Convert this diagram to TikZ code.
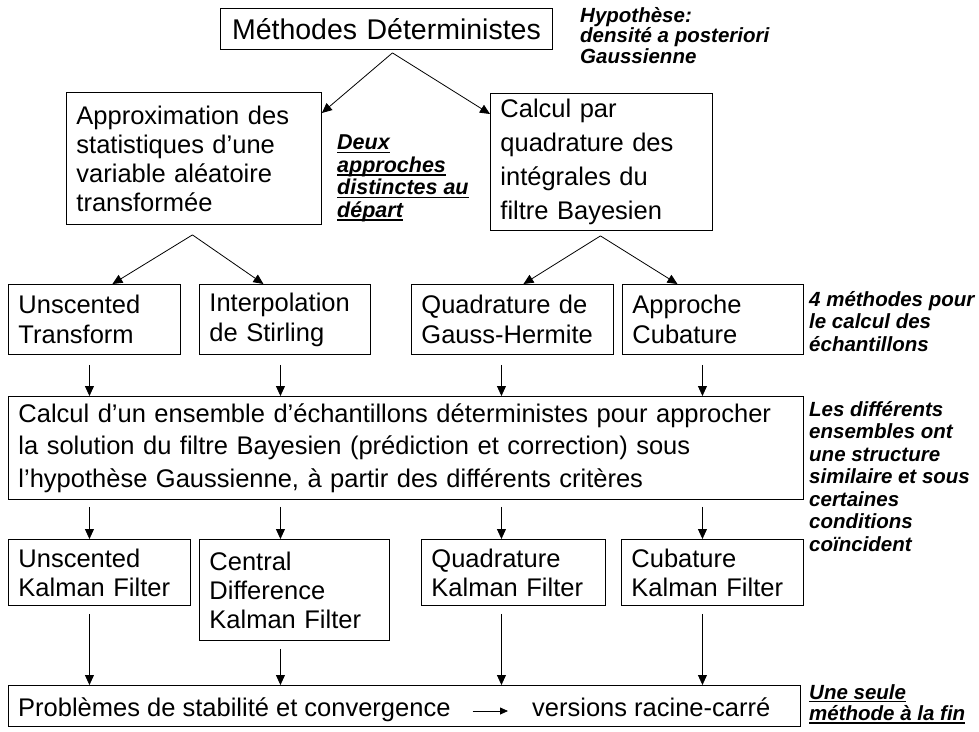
\documentclass[tikz,border=0pt]{standalone}
\usepackage{fontspec}
\setmainfont{Liberation Sans}
\usetikzlibrary{arrows.meta}
\newcommand\myul[1]{\setbox0\hbox{#1}\rlap{\rule[-3.2pt]{\wd0}{1.4pt}}\box0}
\begin{document}
\begin{tikzpicture}[x=1pt,y=-1pt,
  box/.style={draw, line width=0.9pt, anchor=north west, inner xsep=10pt, inner ysep=0pt,
    align=left, font=\fontsize{25.5}{29}\selectfont},
  arr/.style={-{Triangle[length=10pt,width=9pt]}, line width=0.8pt},
  arrs/.style={-{Triangle[length=8pt,width=7pt]}, line width=0.8pt},
  note/.style={anchor=north west, inner sep=0pt, align=left,
    font=\bfseries\itshape\fontsize{20.5}{22.5}\selectfont},
  plain/.style={anchor=base west, inner sep=0pt, font=\fontsize{25.5}{30}\selectfont}]
\useasboundingbox (0,0) rectangle (979,731);

% level 1
\node[box, align=center, font=\fontsize{28.5}{32}\selectfont, text width=312pt, minimum height=41pt] (top) at (220,8) {Méthodes Déterministes};
\node[note, font=\bfseries\itshape\fontsize{20.5}{20.5}\selectfont] (hyp) at (580,7) {Hypothèse:\\densité a posteriori\\Gaussienne};

% level 2
\node[box, text width=235pt, minimum height=132pt] (approx) at (66,92) {Approximation des\\statistiques d’une\\variable aléatoire\\transformée};
\node[box, font=\fontsize{25.5}{34}\selectfont, text width=202pt, minimum height=137pt] (calcul) at (490,93) {Calcul par\\quadrature des\\intégrales du\\filtre Bayesien};
\node[note, font=\bfseries\itshape\fontsize{21.5}{22.5}\selectfont] (deux) at (337,135) {\myul{Deux}\\\myul{approches}\\\myul{distinctes au}\\\myul{départ}};

% level 3
\node[box, font=\fontsize{25.5}{30}\selectfont, text width=152pt, minimum height=70pt] (ut) at (8,284) {Unscented\\Transform};
\node[box, font=\fontsize{25.5}{30}\selectfont, text width=151pt, minimum height=70pt] (stir) at (199,284) {Interpolation\\de Stirling};
\node[box, font=\fontsize{25.5}{30}\selectfont, text width=182pt, minimum height=70pt] (gh) at (411,284) {Quadrature de\\Gauss-Hermite};
\node[box, font=\fontsize{25.5}{30}\selectfont, text width=161pt, minimum height=70pt] (cub) at (622,284) {Approche\\Cubature};
\node[note] (quatre) at (809,291) {4 méthodes pour\\le calcul des\\échantillons};

% level 4
\node[box, font=\fontsize{25.5}{32.5}\selectfont, text width=775pt, minimum height=103pt] (big) at (8,396) {Calcul d’un ensemble d’échantillons déterministes pour approcher\\la solution du filtre Bayesien (prédiction et correction) sous\\l’hypothèse Gaussienne, à partir des différents critères};
\node[note] (les) at (809,401) {Les différents\\ensembles ont\\une structure\\similaire et sous\\certaines\\conditions\\coïncident};

% level 5
\node[box, text width=162pt, minimum height=66pt] (ukf) at (8,539) {Unscented\\Kalman Filter};
\node[box, text width=170pt, minimum height=101pt] (cdkf) at (199,539) {Central\\Difference\\Kalman Filter};
\node[box, text width=164pt, minimum height=66pt] (qkf) at (421,539) {Quadrature\\Kalman Filter};
\node[box, text width=162pt, minimum height=66pt] (ckf) at (621,539) {Cubature\\Kalman Filter};

% level 6
\node[draw, line width=0.9pt, anchor=north west, minimum width=792pt, minimum height=41pt, inner sep=0pt] (final) at (8,685) {};
\node[plain] (prob) at (18,716) {Problèmes de stabilité et convergence};
\node[plain] (vers) at (532,716) {versions racine-carré};
\node[note, font=\bfseries\itshape\fontsize{20.5}{21.5}\selectfont] (une) at (809,684) {\myul{Une seule}\\\myul{méthode à la fin}};

% connectors
\draw[arr] ([xshift=6pt,yshift=-3pt]top.south) -- ([yshift=-21pt]approx.north east);
\draw[arr] ([xshift=6pt,yshift=-3pt]top.south) -- ([yshift=-21pt]calcul.north west);

\draw[arr] ([xshift=-1.5pt,yshift=-10pt]approx.south) -- ([xshift=18pt]ut.north);
\draw[arr] ([xshift=-1.5pt,yshift=-10pt]approx.south) -- ([xshift=-21.5pt]stir.north);
\draw[arr] ([xshift=-1pt,yshift=-5pt]calcul.south) -- ([xshift=11pt]gh.north);
\draw[arr] ([xshift=-1pt,yshift=-5pt]calcul.south) -- ([xshift=-35.5pt]cub.north);

\draw[arr] ([xshift=-5pt,yshift=-10pt]ut.south) -- ([xshift=-316.5pt]big.north);
\draw[arr] ([xshift=-4.5pt,yshift=-10pt]stir.south) -- ([xshift=-125.5pt]big.north);
\draw[arr] ([xshift=-11pt,yshift=-10pt]gh.south) -- ([xshift=95.5pt]big.north);
\draw[arr] ([xshift=-10.5pt,yshift=-10pt]cub.south) -- ([xshift=296.5pt]big.north);

\draw[arr] ([xshift=-316.5pt,yshift=-7pt]big.south) -- ([xshift=-10pt]ukf.north);
\draw[arr] ([xshift=-125.5pt,yshift=-7pt]big.south) -- ([xshift=-14pt]cdkf.north);
\draw[arr] ([xshift=95.5pt,yshift=-7pt]big.south) -- ([xshift=-12pt]qkf.north);
\draw[arr] ([xshift=296.5pt,yshift=-7pt]big.south) -- ([xshift=-10pt]ckf.north);

\draw[arr] ([xshift=-10pt,yshift=-8pt]ukf.south) -- ([xshift=-315pt]final.north);
\draw[arr] ([xshift=-14pt,yshift=-8pt]cdkf.south) -- ([xshift=-124pt]final.north);
\draw[arr] ([xshift=-12pt,yshift=-8pt]qkf.south) -- ([xshift=97pt]final.north);
\draw[arr] ([xshift=-10pt,yshift=-8pt]ckf.south) -- ([xshift=298pt]final.north);

\draw[arrs] ([xshift=22pt,yshift=5pt]prob.base east) -- ([xshift=-24pt,yshift=5pt]vers.base west);
\end{tikzpicture}
\end{document}
